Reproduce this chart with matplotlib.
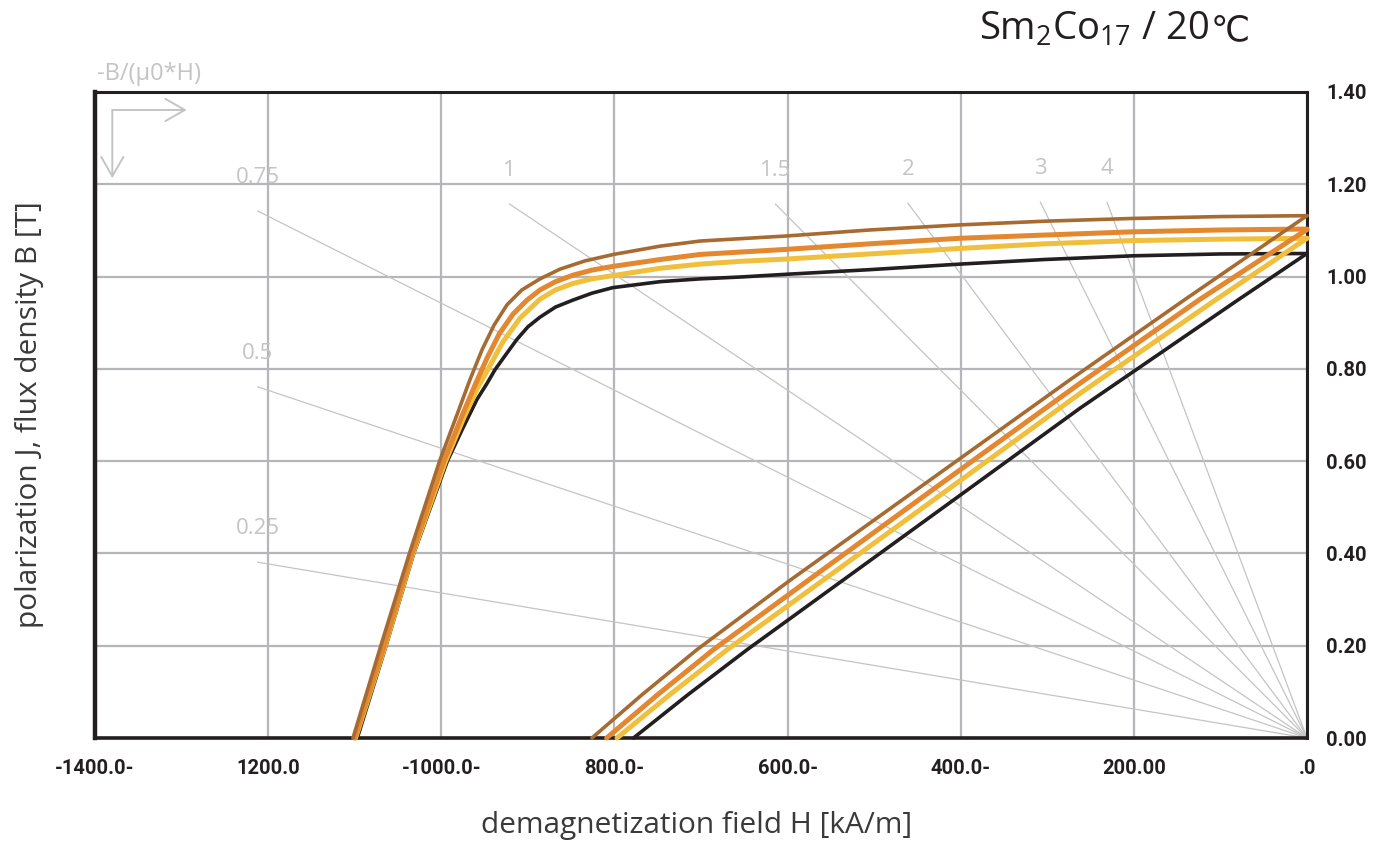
import matplotlib
matplotlib.use('Agg')
import matplotlib.pyplot as plt

# intrinsic curves J(H) [kA/m, T]
j_brown_h = [-1102, -1070, -1037, -1002, -982, -967, -953, -939, -924, -907, -886, -863,
             -834, -801, -747, -701, -601, -505, -401, -303, -201, -100, 0]
j_brown_b = [0.0, 0.199, 0.399, 0.600, 0.700, 0.776, 0.841, 0.895, 0.939, 0.971, 0.995, 1.016,
             1.034, 1.048, 1.066, 1.077, 1.088, 1.101, 1.112, 1.120, 1.126, 1.130, 1.132]
j_orange_h = [-1100, -1066, -1034, -997, -977, -961, -947, -933, -917, -901, -886, -868,
              -848, -826, -802, -747, -701, -601, -505, -401, -303, -201, -100, 0]
j_orange_b = [0.0, 0.199, 0.399, 0.600, 0.694, 0.765, 0.824, 0.876, 0.919, 0.949, 0.971, 0.989,
              1.003, 1.014, 1.022, 1.037, 1.048, 1.059, 1.071, 1.083, 1.090, 1.097, 1.101, 1.103]
j_yellow_h = [-1099, -1065, -1033, -995, -974, -958, -944, -929, -909, -886, -868, -848,
              -826, -802, -747, -701, -655, -601, -505, -401, -303, -201, -100, 0]
j_yellow_b = [0.0, 0.199, 0.399, 0.600, 0.694, 0.759, 0.806, 0.858, 0.910, 0.951, 0.971, 0.985,
              0.995, 1.002, 1.018, 1.027, 1.033, 1.038, 1.049, 1.061, 1.071, 1.078, 1.081, 1.083]
j_black_h = [-1097, -1064, -1032, -993, -976, -959, -947, -938, -925, -913, -900, -886, -868,
             -848, -826, -802, -747, -701, -655, -601, -505, -401, -303, -201, -100, 0]
j_black_b = [0.0, 0.199, 0.399, 0.600, 0.668, 0.733, 0.769, 0.798, 0.832, 0.863, 0.891, 0.912, 0.934,
             0.949, 0.964, 0.976, 0.989, 0.995, 0.999, 1.005, 1.015, 1.027, 1.037, 1.045, 1.049, 1.050]

# normal curves B(H)
b_brown_h = [-826, -768, -705, -597, -405, -274, -142, 0]
b_brown_b = [0.0, 0.094, 0.191, 0.342, 0.600, 0.776, 0.949, 1.132]
b_orange_h = [-809, -750, -686, -576, -420, -262, -125, 0]
b_orange_b = [0.0, 0.094, 0.191, 0.342, 0.555, 0.769, 0.949, 1.102]
b_yellow_h = [-797, -736, -670, -559, -410, -262, -106, 0]
b_yellow_b = [0.0, 0.094, 0.191, 0.342, 0.545, 0.747, 0.949, 1.083]
b_black_h = [-778, -715, -647, -536, -400, -262, -80, 0]
b_black_b = [0.0, 0.094, 0.191, 0.342, 0.527, 0.715, 0.949, 1.050]

# load lines -B/(mu0*H): label, start point (H, B)
load_labels = ['0.25', '0.5', '0.75', '1', '1.5', '2', '3', '4']
load_h = [-1212, -1212, -1212, -921, -614, -461, -308, -231]
load_b = [0.381, 0.761, 1.142, 1.157, 1.157, 1.159, 1.161, 1.161]

xticks = [-1400, -1200, -1000, -800, -600, -400, -200, 0]
xtick_labels = ['-1400.0-', '1200.0', '-1000.0-', '800.0-', '600.0-', '400.0-', '200.00', '.0']
yticks = [0, 0.2, 0.4, 0.6, 0.8, 1.0, 1.2, 1.4]
ytick_labels = ['0.00', '0.20', '0.40', '0.60', '0.80', '1.00', '1.20', '1.40']

plt.rcParams['font.family'] = ['Open Sans', 'DejaVu Sans']
plt.rcParams['mathtext.fontset'] = 'custom'
plt.rcParams['mathtext.rm'] = 'Open Sans'
plt.rcParams['mathtext.it'] = 'Open Sans'

dark = '#231f20'
grid_c = '#b6b6ba'
light = '#c4c4c4'

fig = plt.figure(figsize=(13.77, 8.48), dpi=100)
ax = fig.add_axes([95/1377, 1-738/848, (1307-95)/1377, (738-92)/848])
ax.set_xlim(-1400, 0)
ax.set_ylim(0, 1.4)

ax.set_xticks(xticks)
ax.set_xticklabels(xtick_labels)
ax.set_yticks(yticks)
ax.set_yticklabels(ytick_labels)
ax.yaxis.tick_right()
ax.tick_params(axis='both', length=0, colors=dark)
ax.tick_params(axis='y', pad=14)
ax.tick_params(axis='x', pad=15)
for lab in ax.get_xticklabels() + ax.get_yticklabels():
    lab.set_family(['Roboto', 'DejaVu Sans'])
    lab.set_fontweight('bold')
    lab.set_fontsize(14.5)
    lab.set_color(dark)

ax.grid(True, color=grid_c, lw=1.6)
ax.set_axisbelow(True)

for side, w in [('left', 3.2), ('top', 2.2), ('right', 2.2), ('bottom', 2.6)]:
    ax.spines[side].set_color(dark)
    ax.spines[side].set_linewidth(w)

# load lines
for lab, h, b in zip(load_labels, load_h, load_b):
    ax.plot([h, 0], [b, 0], color=light, lw=0.9, zorder=2)
    ax.annotate(lab, xy=(h, b), xytext=(0, 24), textcoords='offset points',
                ha='center', va='center', fontsize=16, color=light)

# curves
curves = [
    (b_black_h, b_black_b, j_black_h, j_black_b, dark, 2.6),
    (b_yellow_h, b_yellow_b, j_yellow_h, j_yellow_b, '#f0bf3b', 3.6),
    (b_orange_h, b_orange_b, j_orange_h, j_orange_b, '#e3882e', 3.6),
    (b_brown_h, b_brown_b, j_brown_h, j_brown_b, '#a76a31', 2.6),
]
for bh, bb, jh, jb, c, w in curves:
    ax.plot(jh, jb, color=c, lw=w, solid_capstyle='round', solid_joinstyle='round',
            zorder=3, clip_on=False)
    ax.plot(bh, bb, color=c, lw=w, solid_capstyle='round', solid_joinstyle='round',
            zorder=3, clip_on=False)

# direction arrows in the corner
arrow = dict(arrowstyle='->,head_length=0.7,head_width=0.4', color=light, lw=1.4,
             shrinkA=0, shrinkB=0, mutation_scale=20)
ax.annotate('', xy=(-1294, 1.361), xytext=(-1380, 1.361), arrowprops=arrow)
ax.annotate('', xy=(-1380, 1.213), xytext=(-1380, 1.361), arrowprops=arrow)

fig.text(97/1377, 1-74/848, '-B/(µ0*H)', ha='left', va='center', fontsize=17, color=light)

fig.text(1209/1377, 1-40/848, r'Sm$_2$Co$_{17}$ / 20', ha='right', va='baseline',
         fontsize=27.5, color=dark)
fig.text(1211/1377, 1-40/848, '℃', ha='left', va='baseline',
         fontsize=25, color=dark, family='DejaVu Sans')

fig.text(30/1377, 1-415/848, 'polarization J, flux density B [T]', rotation=90,
         ha='center', va='center', fontsize=21.5, color='#3a3a3a')
fig.text(697/1377, 1-826/848, 'demagnetization field H [kA/m]', ha='center', va='center',
         fontsize=21.5, color='#3a3a3a')

fig.savefig('out.png', dpi=100)
